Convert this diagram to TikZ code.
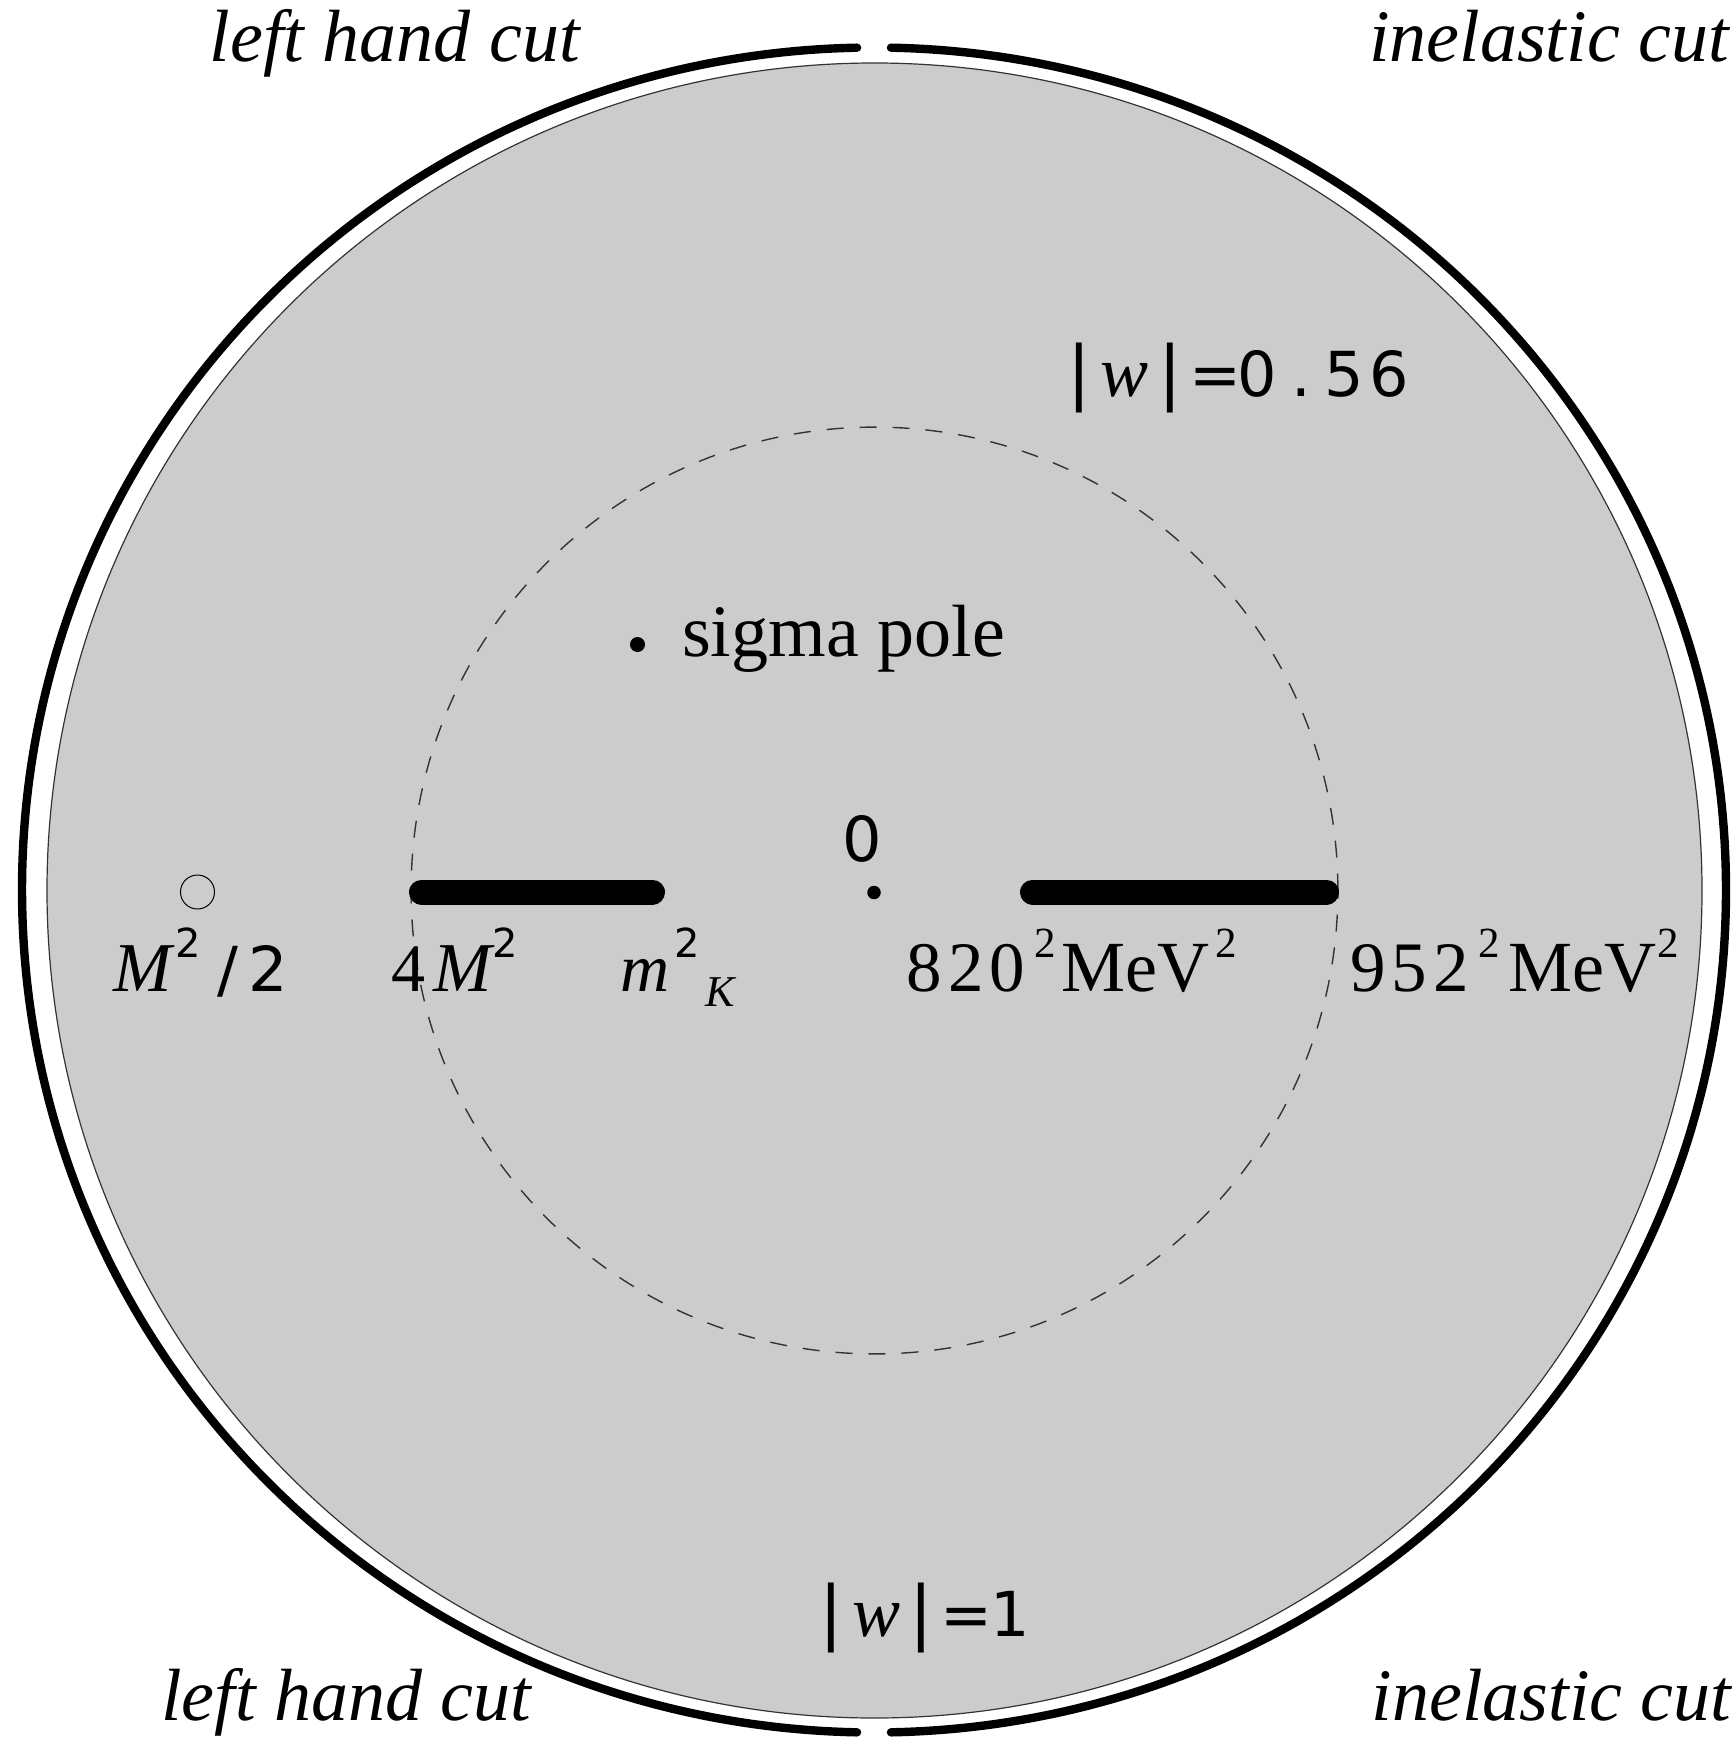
\documentclass[tikz,border=0pt]{standalone}
\usepackage{fontspec}
\setmainfont{Liberation Serif}
\newfontfamily\vsans{DejaVu Sans}
\newcommand\fsz[1]{\fontsize{#1}{#1}\selectfont}
\newcommand\ctr[2]{\rlap{\hspace*{#1}\makebox[0pt][c]{#2}}}
\newcommand\supr[1]{\raisebox{17.35pt}{#1}}
\newcommand\dg{\vsans\fsz{31}}
\newcommand\sdg{\vsans\fsz{20}}
\newcommand\rdg{\fsz{21.5}}
\newcommand\vbr{{\vsans\fsz{35}|}}
\begin{document}
\begin{tikzpicture}[x=0.5pt,y=-0.5pt,
  lbl/.style={inner sep=0pt, outer sep=0pt},
  cutlabel/.style={lbl, anchor=base, font=\fsz{37}\itshape},
  outerarc/.style={line width=4.2pt, line cap=round},
  cutline/.style={line width=12.5pt, line cap=round},
  dotpt/.style={circle, fill=black, inner sep=0pt}]
\useasboundingbox (0,0) rectangle (1734,1738);
\coordinate (C) at (874.5,890.5);
\coordinate (E) at (874,890);
% gray unit disc
\node[circle, minimum size=827.5pt, inner sep=0pt, fill=black!20, draw=black!80, line width=0.6pt] (disc) at (C) {};
% outer arcs (cuts on |w|=1)
\draw[outerarc] (E) ++(91.14:426pt and 421.25pt) arc[start angle=91.14, end angle=268.86, x radius=426pt, y radius=421.25pt];
\draw[outerarc] (E) ++(-88.86:426pt and 421.25pt) arc[start angle=-88.86, end angle=88.86, x radius=426pt, y radius=421.25pt];
% dashed circle |w|=0.56
\node[circle, minimum size=463.4pt, inner sep=0pt, draw=black!80, line width=0.7pt, dash pattern=on 8.5pt off 8pt] (inner) at (C) {};
% cuts on real axis
\coordinate (lc1) at (421.5,892);
\coordinate (lc2) at (652.5,892);
\coordinate (rc1) at (1032.5,892);
\coordinate (rc2) at (1326.5,892);
\draw[cutline] (lc1) -- (lc2);
\draw[cutline] (rc1) -- (rc2);
% points
\node[circle, draw=black, line width=0.5pt, minimum size=17pt, inner sep=0pt] (half) at (197.5,892) {};
\node[dotpt, minimum size=6.75pt] (zero) at (874,892.5) {};
\node[dotpt, minimum size=7.5pt] (sigma) at (637.5,644.5) {};
% corner labels
\node[cutlabel] (lhcT) at (394.8,62) {left hand cut};
\node[cutlabel] (inT) at (1549,62) {inelastic cut};
\node[cutlabel] (lhcB) at (346,1720) {left hand cut};
\node[cutlabel] (inB) at (1551.5,1720) {inelastic cut};
% sigma pole
\node[lbl, anchor=base, font=\fsz{37}] (sigmalbl) at (843.5,656) {sigma pole};
% |w| labels
\node[lbl, anchor=base west] (w56) at (1078.5,396.7) {\ctr{0pt}{\vbr}\ctr{22.5pt}{\fsz{36}\itshape w}\ctr{45.25pt}{\vbr}\ctr{68pt}{\dg =}\ctr{89pt}{\dg 0}\ctr{110.75pt}{\dg .}\ctr{132.5pt}{\dg 5}\ctr{155pt}{\dg 6}};
\node[lbl, anchor=base west] (w1) at (830,1636.7) {\ctr{0pt}{\vbr}\ctr{22.75pt}{\fsz{36}\itshape w}\ctr{45.25pt}{\vbr}\ctr{67.5pt}{\dg =}\ctr{89.75pt}{\dg 1}};
\node[lbl, anchor=base] (zerolbl) at (862.5,861) {\dg 0};
% axis labels
\node[lbl, anchor=base west] (mhalf) at (141.5,991.7) {\ctr{0pt}{\fsz{35}\itshape M}\ctr{22.75pt}{\supr{\sdg 2}}\ctr{42.5pt}{\dg /}\ctr{63.1pt}{\dg 2}};
\node[lbl, anchor=base west] (fourm) at (407.5,991.7) {\ctr{0pt}{\fsz{34}4}\ctr{27.25pt}{\fsz{35}\itshape M}\ctr{48.5pt}{\supr{\sdg 2}}};
\node[lbl, anchor=base west] (mk) at (644,991.7) {\ctr{0pt}{\fsz{34}\itshape m}\ctr{21.25pt}{\supr{\sdg 2}}\ctr{37.75pt}{\raisebox{-7.5pt}{\fsz{22}\itshape K}}};
\node[lbl, anchor=base west] (e820) at (923,991.7) {\ctr{0pt}{\fsz{35.5}8}\ctr{21.25pt}{\fsz{35.5}2}\ctr{41.75pt}{\fsz{35.5}0}\ctr{60.75pt}{\supr{\rdg 2}}\ctr{105.75pt}{\fsz{36}MeV}\ctr{151pt}{\supr{\rdg 2}}};
\node[lbl, anchor=base west] (e952) at (1367.5,991.7) {\ctr{0pt}{\fsz{35.5}9}\ctr{20.25pt}{\fsz{35.5}5}\ctr{41.25pt}{\fsz{35.5}2}\ctr{60.25pt}{\supr{\rdg 2}}\ctr{107pt}{\fsz{36}MeV}\ctr{149.75pt}{\supr{\rdg 2}}};
\end{tikzpicture}
\end{document}
